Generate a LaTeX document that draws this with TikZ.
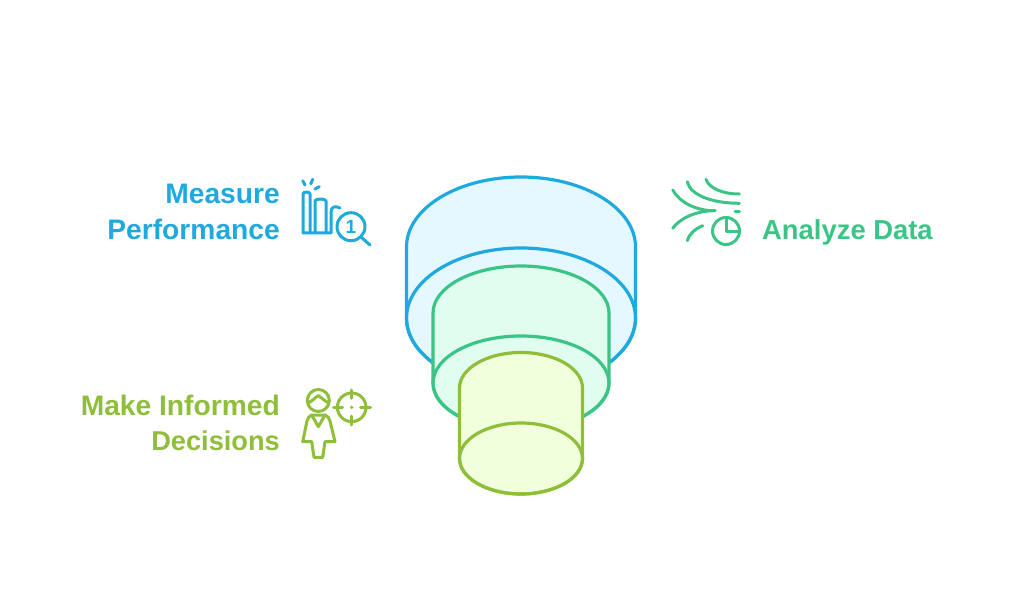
\documentclass[tikz,border=0pt]{standalone}
\usepackage{fontspec}
\setmainfont{Liberation Sans}
\definecolor{skyline}{HTML}{1EA9DF}
\definecolor{skyfill}{HTML}{E6F8FF}
\definecolor{mintline}{HTML}{3AC587}
\definecolor{mintfill}{HTML}{E1FDF0}
\definecolor{limeline}{HTML}{8FBE3A}
\definecolor{limefill}{HTML}{F2FFDC}
\tikzset{
    label/.style={font=\fontsize{28.2}{35.5}\selectfont\bfseries, align=right, inner sep=0pt},
    icon/.style={line width=3pt, line cap=round, line join=round},
    rim/.style={line width=3.2pt, line join=round}
}
% one cylinder: centre x, half width, half height, top y, bottom y, colours
\newcommand{\drum}[7]{
    \filldraw[rim, draw=#6, fill=#7] (#1-#2,#5) -- (#1-#2,#4) arc[start angle=180, end angle=0, x radius=#2, y radius=-#3]
        -- (#1+#2,#5) arc[start angle=0, end angle=-180, x radius=#2, y radius=-#3] -- cycle;
    \draw[rim, draw=#6] (#1,#5) ellipse[x radius=#2, y radius=#3];
}
\begin{document}
\begin{tikzpicture}[x=1pt, y=-1pt]
    \useasboundingbox (0,0) rectangle (1024,601);

    \drum{521}{114.5}{70}{247}{318}{skyline}{skyfill}
    \drum{521}{88}{47}{313}{383}{mintline}{mintfill}
    \drum{521}{61.5}{35.5}{388}{458.5}{limeline}{limefill}

    \node[label, text=skyline, anchor=east] (measure) at (280,212) {Measure\\Performance};
    \node[label, text=mintline, anchor=west, font=\fontsize{27.4}{35.5}\selectfont\bfseries] (analyze) at (762,232) {Analyze Data};
    \node[label, text=limeline, anchor=east] (decide) at (280,423) {Make Informed\\\fontsize{27.2}{35.5}\selectfont Decisions};

    % chart and magnifier
    \begin{scope}[icon, draw=skyline]
        \draw (303,233) -- (303,194) arc[start angle=180, end angle=0, x radius=3.5, y radius=-2] -- (310,233);
        \draw (315,233) -- (315,201) arc[start angle=180, end angle=0, x radius=5.5, y radius=-2] -- (326,233);
        \draw (303,233) -- (331,233) -- (331,212) .. controls (331,206) and (336,206) .. (340,208);
        \draw (302.7,180.7) -- (305,185);
        \draw (312.7,179.3) -- (310.7,184);
        \draw (319.3,186.7) -- (315,189);
        \draw (351,226.7) circle[radius=14];
        \draw (361,237) -- (370,245);
        \node[font=\fontsize{19}{19}\selectfont\bfseries, text=skyline, inner sep=0pt] (rank) at (351,226.7) {1};
    \end{scope}

    % streams and clock
    \begin{scope}[icon, draw=mintline]
        \draw (672.7,190) .. controls (680,203) and (697,211) .. (715,210.7);
        \draw (672.7,228.3) .. controls (680,218) and (697,210.5) .. (715,210.7);
        \draw (687.3,181.7) .. controls (690,195) and (712,203.3) .. (739.3,203.3);
        \draw (706,179.3) .. controls (709,188) and (722,194) .. (739.3,194);
        \draw (735,211.7) -- (739.3,211.7);
        \draw (687.3,240.7) .. controls (689,234) and (695,229) .. (702.7,225.7);
        \draw (726,231) circle[radius=13.5];
        \draw (726,218) -- (726,232) -- (739,232);
    \end{scope}

    % person and target
    \begin{scope}[icon, draw=limeline]
        \draw (318.3,400.5) circle[radius=11];
        \draw (308.5,402.7) .. controls (312,401) and (315,398) .. (318.3,395.5) .. controls (321.5,398) and (325,401) .. (328.3,402.7);
        \draw (311.7,415) -- (325,415) .. controls (328,416) and (329,418) .. (330,421) -- (335,441.7) -- (325,441.7) -- (322.7,457.3) -- (314,457.3) -- (311.7,441.7) -- (302.7,441.7) -- (307,421) .. controls (308,418) and (309,416) .. (311.7,415);
        \draw (311.7,415) -- (318.3,426.7) -- (325,415);
        \draw (351.7,407.3) circle[radius=14.3];
        \draw (351.7,390) -- (351.7,398.3);
        \draw (351.7,416) -- (351.7,425);
        \draw (333.5,407.3) -- (342.7,407.3);
        \draw (360.7,407.3) -- (370.5,407.3);
        \fill[limeline] (351.7,407.3) circle[radius=1.8];
    \end{scope}
\end{tikzpicture}
\end{document}
